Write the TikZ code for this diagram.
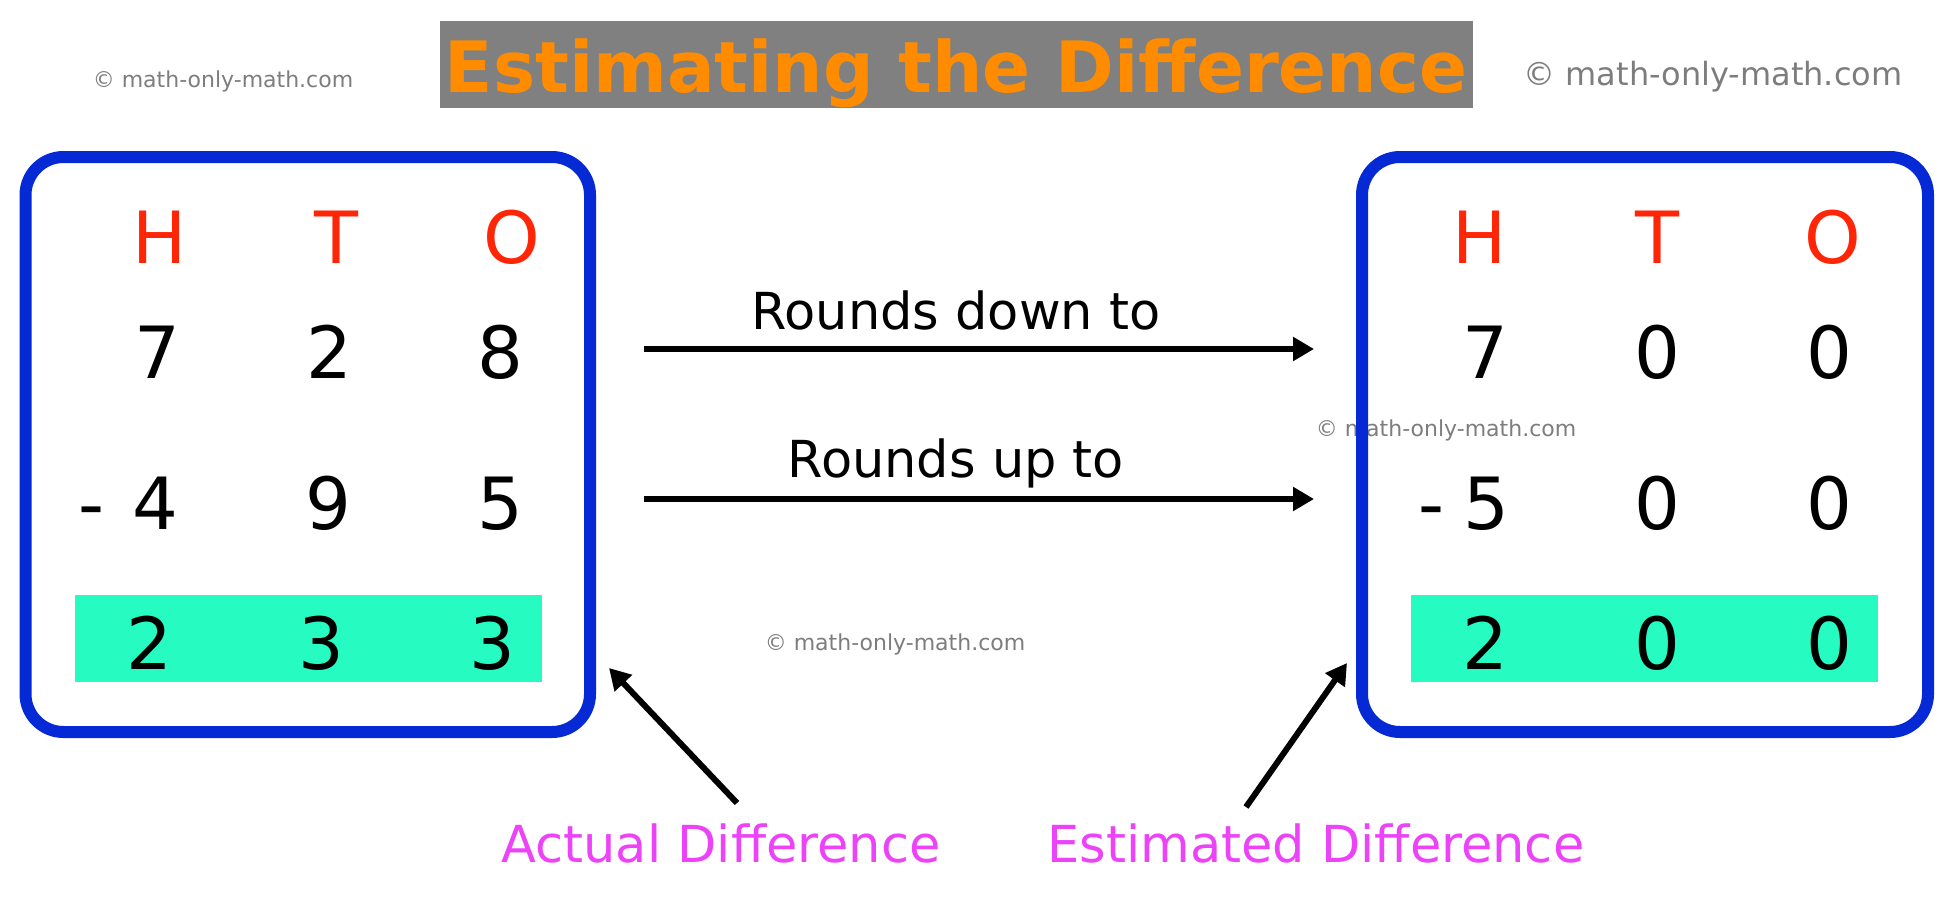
\documentclass[tikz,border=0pt]{standalone}
\usepackage{fontspec}
\setmainfont{DejaVu Sans}
\usetikzlibrary{arrows.meta}
\definecolor{boxblue}{RGB}{5,41,212}
\definecolor{htored}{RGB}{255,38,8}
\definecolor{sumgreen}{RGB}{38,252,194}
\definecolor{notepink}{RGB}{236,66,248}
\definecolor{titleorange}{RGB}{255,140,0}
\definecolor{titlegray}{RGB}{128,128,128}
\definecolor{markgray}{RGB}{125,125,125}
\tikzset{
  place/.style={anchor=base, inner sep=0pt, font=\fontsize{36}{40}\selectfont},
  head/.style={place, text=htored},
  frame/.style={draw=boxblue, line width=6pt, rounded corners=19pt, inner sep=0pt,
    minimum height=287.5pt},
  caption/.style={anchor=base, inner sep=0pt, font=\fontsize{25.5}{30}\selectfont},
  wmark/.style={anchor=base, inner sep=0pt, text=markgray},
  arrowline/.style={->, line width=3pt}
}
\begin{document}
\begin{tikzpicture}[x=0.5pt, y=-0.5pt, line join=round,
  >={Triangle[length=10.5pt,width=11.5pt]}]
\useasboundingbox (0,0) rectangle (1957,899);
% title
\fill[titlegray] (440,21) rectangle (1473,108);
\node[anchor=base, inner sep=0pt, text=titleorange,
  font=\bfseries\fontsize{35.4}{40}\selectfont] (title) at (956,92) {Estimating the Difference};
% watermarks
\node[wmark, font=\fontsize{11}{13}\selectfont] (wmleft) at (223,88) {© math-only-math.com};
\node[wmark, font=\fontsize{16}{19}\selectfont] (wmright) at (1713,86) {© math-only-math.com};
\node[wmark, font=\fontsize{11}{13}\selectfont] (wmmid) at (1446,436) {© math-only-math.com};
\node[wmark, font=\fontsize{11}{13}\selectfont] (wmlow) at (895,650) {© math-only-math.com};
% the two boxes
\node[frame, minimum width=282.25pt] (actualbox) at (307.75,444.5) {};
\node[frame, minimum width=283pt] (estbox) at (1645,444.5) {};
\fill[sumgreen] (75,595) rectangle (542,682);
\fill[sumgreen] (1411,595) rectangle (1878,682);
% actual subtraction
\foreach \t/\x in {H/160,T/336,O/512}
  \node[head] (l\t) at (\x,263) {\t};
\foreach \d/\x [count=\i] in {7/157,2/329,8/500}
  \node[place] (la\i) at (\x,378) {\d};
\node[place] (lminus) at (91,529) {-};
\foreach \d/\x [count=\i] in {4/155,9/328,5/500}
  \node[place] (lb\i) at (\x,529) {\d};
\foreach \d/\x [count=\i] in {2/149,3/321,3/492}
  \node[place] (lc\i) at (\x,669) {\d};
% estimated subtraction
\foreach \t/\x in {H/1480,T/1657,O/1833}
  \node[head] (r\t) at (\x,263) {\t};
\foreach \d/\x [count=\i] in {7/1485,0/1657,0/1829}
  \node[place] (ra\i) at (\x,378) {\d};
\node[place] (rminus) at (1431,529) {-};
\foreach \d/\x [count=\i] in {5/1486,0/1657,0/1829}
  \node[place] (rb\i) at (\x,529) {\d};
\foreach \d/\x [count=\i] in {2/1485,0/1657,0/1829}
  \node[place] (rc\i) at (\x,669) {\d};
% rounding arrows
\node[caption] (down) at (956,329) {Rounds down to};
\node[caption] (up) at (956,477) {Rounds up to};
\coordinate (downstart) at (644,349);
\coordinate (downend) at (1314,349);
\coordinate (upstart) at (644,499);
\coordinate (upend) at (1314,499);
\draw[arrowline] (downstart) -- (downend);
\draw[arrowline] (upstart) -- (upend);
% pointers to the differences
\node[caption, text=notepink] (actual) at (721,862) {Actual Difference};
\node[caption, text=notepink] (estimated) at (1316,862) {Estimated Difference};
\coordinate (actualtail) at (737,803);
\coordinate (actualtip) at (609,668);
\coordinate (esttail) at (1246,807);
\coordinate (esttip) at (1347,663);
\draw[arrowline] (actualtail) -- (actualtip);
\draw[arrowline] (esttail) -- (esttip);
\end{tikzpicture}
\end{document}
